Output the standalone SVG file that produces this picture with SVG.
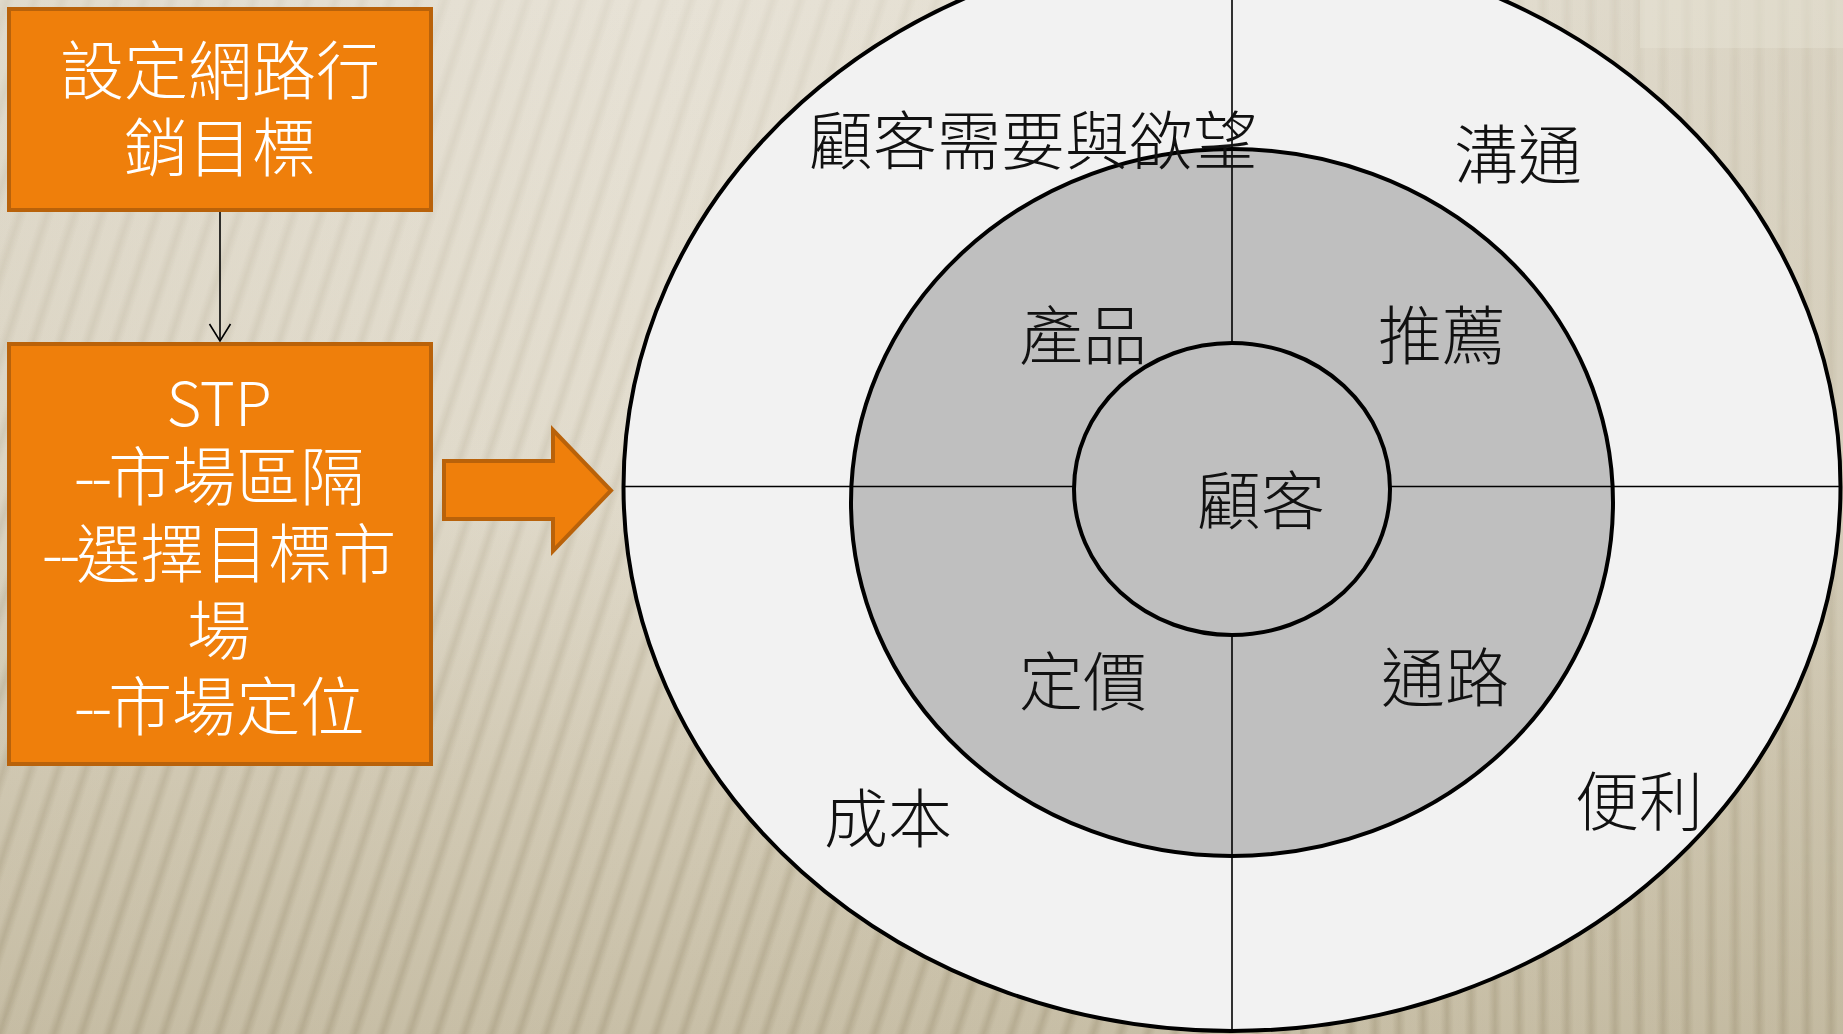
<svg xmlns="http://www.w3.org/2000/svg" width="1843" height="1034" viewBox="0 0 1843 1034">
  <defs>
    <style>
      .box { fill: #ef7f0b; stroke: #b9620a; stroke-width: 4; }
      .boxText { fill: #ffffff; font-family: "Noto Sans CJK TC", "Noto Sans", sans-serif; font-weight: 300; font-size: 64px; text-anchor: middle; dominant-baseline: central; }
      .dash { letter-spacing: -4px; }
      .ring { stroke: #000000; stroke-width: 4; }
      .axis { stroke: #000000; stroke-width: 1.6; fill: none; }
      .label { fill: #111111; font-family: "Noto Sans CJK TC", sans-serif; font-weight: 300; font-size: 64px; text-anchor: middle; dominant-baseline: central; }
      .link { stroke: #000000; stroke-width: 1.6; fill: none; }
    </style>
    <linearGradient id="bgBase" x1="0" y1="0" x2="0" y2="1">
      <stop offset="0" stop-color="#e7e2d6"/>
      <stop offset="0.45" stop-color="#e2dccd"/>
      <stop offset="0.75" stop-color="#d3cbb6"/>
      <stop offset="1" stop-color="#c8bfa7"/>
    </linearGradient>
    <linearGradient id="bgSide" x1="0" y1="0" x2="1" y2="0">
      <stop offset="0" stop-color="#b8ae92" stop-opacity="0.15"/>
      <stop offset="0.35" stop-color="#b8ae92" stop-opacity="0"/>
      <stop offset="0.8" stop-color="#b8ae92" stop-opacity="0.1"/>
      <stop offset="1" stop-color="#b8ae92" stop-opacity="0.3"/>
    </linearGradient>
    <linearGradient id="stripeGrad" x1="0" y1="0" x2="1" y2="0">
      <stop offset="0" stop-color="#8c8061" stop-opacity="0"/>
      <stop offset="0.5" stop-color="#8c8061" stop-opacity="0.3"/>
      <stop offset="1" stop-color="#8c8061" stop-opacity="0"/>
    </linearGradient>
    <pattern id="slant" patternUnits="userSpaceOnUse" width="26" height="200" patternTransform="rotate(18)">
      <rect x="0" y="0" width="14" height="200" fill="url(#stripeGrad)"/>
    </pattern>
    <pattern id="upright" patternUnits="userSpaceOnUse" width="24" height="200">
      <rect x="0" y="0" width="14" height="200" fill="url(#stripeGrad)"/>
    </pattern>
    <linearGradient id="fadeDown" x1="0" y1="0" x2="0" y2="1">
      <stop offset="0" stop-color="#ffffff" stop-opacity="0.25"/>
      <stop offset="0.5" stop-color="#ffffff" stop-opacity="0.5"/>
      <stop offset="1" stop-color="#ffffff" stop-opacity="1"/>
    </linearGradient>
    <mask id="stripeMask">
      <rect x="0" y="0" width="1843" height="1034" fill="url(#fadeDown)"/>
    </mask>
    <marker id="openHead" markerUnits="userSpaceOnUse" viewBox="-19 -12 21 24" markerWidth="21" markerHeight="24" refX="0" refY="0" orient="auto">
      <path d="M-17,-10.5 L0,0 L-17,10.5" fill="none" stroke="#000000" stroke-width="1.6"/>
    </marker>
  </defs>

  <!-- textured beige backdrop -->
  <g id="backdrop">
    <rect x="0" y="0" width="1843" height="1034" fill="url(#bgBase)"/>
    <rect x="0" y="0" width="1843" height="1034" fill="url(#bgSide)"/>
    <g mask="url(#stripeMask)">
      <rect x="0" y="0" width="1300" height="1034" fill="url(#slant)"/>
      <rect x="1300" y="0" width="543" height="1034" fill="url(#upright)"/>
    </g>
    <rect x="1640" y="0" width="203" height="48" fill="#ece7da" opacity="0.35"/>
  </g>

  <!-- connectors -->
  <g id="connectors">
    <line class="link" x1="220" y1="211" x2="220" y2="341" marker-end="url(#openHead)"/>
    <path id="bigArrow" d="M444,461 L553,461 L553,430 L611,490.5 L553,551 L553,519 L444,519 Z" fill="#ef7f0b" stroke="#b9620a" stroke-width="4" stroke-linejoin="miter"/>
  </g>

  <!-- goal box -->
  <g id="node-goal">
    <rect class="box" x="9" y="9" width="422" height="201"/>
    <text class="boxText" x="220" y="66">設定網路行</text>
    <text class="boxText" x="220" y="143">銷目標</text>
  </g>

  <!-- STP box -->
  <g id="node-stp">
    <rect class="box" x="9" y="344" width="422" height="420"/>
    <text class="boxText" x="219" y="399" style="font-size:60px">STP</text>
    <text class="boxText" x="219" y="472"><tspan class="dash">--</tspan>市場區隔</text>
    <text class="boxText" x="219" y="549"><tspan class="dash">--</tspan>選擇目標市</text>
    <text class="boxText" x="219" y="625.5">場</text>
    <text class="boxText" x="219" y="702"><tspan class="dash">--</tspan>市場定位</text>
  </g>

  <!-- concentric customer model -->
  <g id="node-outer">
    <ellipse class="ring" cx="1232" cy="487" rx="608.5" ry="544" fill="#f2f2f2"/>
  </g>
  <g id="node-middle">
    <ellipse class="ring" cx="1232" cy="502.5" rx="381" ry="353.5" fill="#bfbfbf"/>
  </g>
  <g id="axes">
    <line class="axis" x1="624" y1="486.5" x2="1841" y2="486.5"/>
    <line class="axis" x1="1232" y1="-60" x2="1232" y2="1031"/>
  </g>
  <g id="node-inner">
    <ellipse class="ring" cx="1232" cy="489" rx="158" ry="146" fill="#bfbfbf"/>
    <text class="label" x="1261" y="496">顧客</text>
  </g>

  <g id="node-labels">
    <text class="label" x="1033" y="136">顧客需要與欲望</text>
    <text class="label" x="1518" y="150">溝通</text>
    <text class="label" x="1083" y="331">產品</text>
    <text class="label" x="1442" y="331">推薦</text>
    <text class="label" x="1083" y="677">定價</text>
    <text class="label" x="1445" y="673">通路</text>
    <text class="label" x="888" y="814">成本</text>
    <text class="label" x="1639" y="797">便利</text>
  </g>
</svg>
